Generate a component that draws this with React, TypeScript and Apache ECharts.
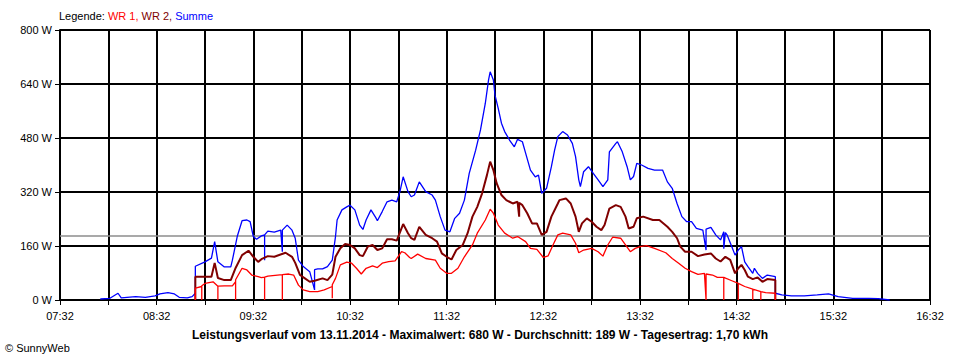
import React, { useEffect, useRef } from "react";
import * as echarts from "echarts";

// ---- Data ----
const yTicks = [0, 160, 320, 480, 640, 800];
const startClock = "07:32";
const endClock = "16:32";

const sumTimes = [
  "07:57","08:03","08:08","08:10","08:19","08:25","08:31","08:34","08:39","08:43","08:46","08:51","08:54","08:56","08:56",
  "09:02","09:06","09:08","09:10","09:14","09:18","09:19","09:22","09:25","09:28","09:30","09:32","09:34","09:37","09:39","09:39","09:39",
  "09:41","09:45","09:49","09:50","09:50","09:53","09:56","09:58","10:00","10:03","10:07","10:10","10:10","10:12","10:15","10:18","10:21",
  "10:23","10:24","10:27","10:30","10:32","10:35","10:38","10:40","10:42","10:45","10:48","10:49","10:52","10:55","10:58","11:01","11:03",
  "11:05","11:08","11:10","11:12","11:15","11:19","11:23","11:25","11:28","11:31","11:34","11:37","11:40","11:43","11:46","11:50","11:53",
  "11:56","11:58","11:59","12:01","12:02","12:04","12:06","12:08","12:11","12:14","12:16","12:19","12:21","12:24","12:27","12:29","12:31",
  "12:34","12:37","12:39","12:41","12:44","12:47","12:50","12:52","12:54","12:55","12:57","13:00","13:03","13:06","13:09","13:12","13:13",
  "13:17","13:18","13:21","13:24","13:26","13:28","13:30","13:33","13:37","13:41","13:46","13:49","13:52","13:55","13:58","14:01","14:04",
  "14:07","14:11","14:13","14:13","14:16","14:19","14:22","14:24","14:24","14:25","14:26","14:29","14:31","14:33","14:35","14:37","14:39",
  "14:42","14:43","14:45","14:48","14:51","14:56","14:56","15:00","15:06","15:14","15:22","15:29","15:35","15:44","15:54","16:00","16:07"
];
const sumValues = [
  3,5,20,6,10,8,12,18,22,18,8,6,10,20,100,
  113,124,173,113,98,98,118,188,235,237,232,188,180,190,193,118,193,
  204,201,207,143,207,222,207,183,118,99,84,30,90,92,92,99,118,
  188,237,267,276,281,267,222,209,237,267,244,235,262,291,296,291,321,
  365,321,306,311,350,321,311,296,247,207,202,242,257,296,375,444,504,
  583,652,676,652,607,568,524,499,474,454,476,469,435,385,365,370,316,
  331,395,444,484,499,489,464,425,356,336,380,395,375,356,336,356,439,
  464,469,439,395,356,366,405,400,390,385,385,350,331,286,247,232,232,
  212,207,148,210,215,193,178,202,152,200,193,158,133,148,158,113,99,
  79,94,79,64,74,69,20,15,12,12,15,18,10,5,5,4,0
];

const wr2Times = [
  "08:56","08:56","09:02","09:06","09:08","09:10","09:14","09:18","09:21","09:25","09:29","09:32","09:35","09:37","09:41","09:45","09:52",
  "09:56","09:58","10:01","10:04","10:07","10:10","10:15","10:18","10:21","10:23","10:26","10:29","10:32","10:35","10:38","10:40","10:43",
  "10:46","10:49","10:52","10:55","10:58","11:01","11:05","11:08","11:10","11:12","11:15","11:19","11:23","11:26","11:29","11:32","11:35",
  "11:38","11:42","11:45","11:48","11:51","11:54","11:57","11:59","12:01","12:03","12:06","12:09","12:13","12:16","12:17","12:17","12:19",
  "12:22","12:25","12:28","12:31","12:34","12:37","12:41","12:42","12:46","12:49","12:52","12:54","12:56","12:59","13:02","13:05","13:08",
  "13:10","13:13","13:17","13:20","13:23","13:25","13:28","13:30","13:34","13:40","13:44","13:49","13:52","13:55","13:57","14:00","14:04",
  "14:08","14:12","14:16","14:19","14:22","14:25","14:28","14:31","14:33","14:35","14:37","14:39","14:42","14:45","14:48","14:51","14:56","14:56"
];
const wr2Values = [
  0,69,69,69,110,65,59,59,95,133,146,128,113,121,130,128,140,
  128,110,74,64,54,57,64,59,75,128,153,166,163,153,133,130,158,
  163,148,153,180,180,176,225,198,183,178,217,193,183,173,138,128,120,
  148,163,198,247,276,316,370,410,385,346,311,296,286,291,247,288,281,
  257,227,227,193,202,247,286,296,301,286,247,202,227,242,232,217,207,
  222,271,281,276,247,212,217,242,247,237,237,217,202,183,158,143,143,
  130,135,138,123,114,128,119,79,94,104,89,69,62,67,54,62,59,0
];

const wr1Times = [
  "08:56","08:56","09:00","09:00","09:00","09:02","09:07","09:10","09:10","09:10","09:14","09:19","09:21","09:21","09:21","09:25","09:28",
  "09:31","09:35","09:37","09:39","09:39","09:39","09:41","09:47","09:50","09:50","09:50","09:54","09:57","10:00","10:03","10:07","10:12",
  "10:16","10:21","10:21","10:21","10:23","10:26","10:30","10:33","10:36","10:39","10:42","10:46","10:49","10:52","10:56","11:00","11:04",
  "11:06","11:09","11:10","11:14","11:19","11:25","11:28","11:32","11:35","11:39","11:43","11:48","11:51","11:56","11:59","12:01","12:04",
  "12:08","12:13","12:16","12:21","12:24","12:28","12:32","12:35","12:38","12:41","12:44","12:49","12:52","12:54","12:57","13:02","13:06",
  "13:09","13:12","13:15","13:20","13:23","13:26","13:29","13:32","13:36","13:41","13:48","13:52","13:56","14:00","14:04","14:08","14:12",
  "14:13","14:13","14:17","14:20","14:24","14:24","14:24","14:29","14:33","14:33","14:33","14:37","14:42","14:42","14:42","14:45","14:47",
  "14:47","14:47","14:50","14:56","14:56"
];
const wr1Values = [
  0,35,40,0,42,49,54,41,0,41,42,42,54,0,60,94,89,
  74,69,66,68,0,68,71,74,75,0,75,77,74,44,30,25,25,
  30,40,5,45,64,104,112,109,94,77,94,101,96,109,114,116,143,
  140,126,123,136,123,118,94,79,79,94,128,163,198,237,269,257,222,
  198,183,188,173,153,150,126,131,163,193,198,193,168,140,148,153,143,
  130,163,186,183,163,143,153,158,161,153,140,123,109,94,84,76,79,
  0,77,74,67,67,0,67,57,49,0,49,40,32,0,32,28,25,
  0,25,22,20,0
];

const averageValue = 189;
const captionText =
  "Leistungsverlauf vom 13.11.2014 - Maximalwert: 680 W - Durchschnitt: 189 W - Tagesertrag: 1,70 kWh";

// ---- Helpers ----
const clockToMin = (t: string) => {
  const [h, m] = t.split(":").map(Number);
  return h * 60 + m;
};
const originMin = clockToMin(startClock);
const spanMin = clockToMin(endClock) - originMin;
const pad = (n: number) => (n < 10 ? "0" + n : "" + n);
const offsetToClock = (v: number) => {
  const total = originMin + v;
  return pad(Math.floor(total / 60)) + ":" + pad(total % 60);
};
const toPairs = (times: string[], values: number[]) =>
  times.map((t, i) => [clockToMin(t) - originMin, values[i]]);

const FONT = "'Liberation Sans', Arial, sans-serif";

export default function App() {
  const ref = useRef<HTMLDivElement>(null);

  useEffect(() => {
    if (!ref.current) return;
    const chart = echarts.init(ref.current, undefined, { renderer: "svg" });
    chart.setOption({
      animation: false,
      backgroundColor: "#ffffff",
      textStyle: { fontFamily: FONT },
      title: [
        {
          text: "{k|Legende: }{a|WR 1, }{b|WR 2, }{c|Summe}",
          left: 59,
          top: 10,
          textStyle: {
            fontFamily: FONT,
            fontSize: 11,
            fontWeight: "normal",
            rich: {
              k: { color: "#000000", fontSize: 11, fontFamily: FONT },
              a: { color: "#ff0000", fontSize: 11, fontFamily: FONT },
              b: { color: "#800000", fontSize: 11, fontFamily: FONT },
              c: { color: "#0000ff", fontSize: 11, fontFamily: FONT },
            },
          },
          padding: 0,
        },
        {
          text: captionText,
          left: "center",
          top: 329,
          padding: 0,
          textStyle: { fontFamily: FONT, fontSize: 12, fontWeight: "bold", color: "#000" },
        },
        {
          text: "© SunnyWeb",
          left: 5,
          top: 342,
          padding: 0,
          textStyle: { fontFamily: FONT, fontSize: 11, fontWeight: "normal", color: "#000" },
        },
      ],
      grid: {
        left: 60,
        right: 30,
        top: 30,
        bottom: 60,
        containLabel: false,
        outerBoundsMode: "none",
      },
      xAxis: {
        type: "value",
        min: 0,
        max: spanMin,
        interval: 30,
        axisLine: { show: true, lineStyle: { color: "#000", width: 2 } },
        axisTick: { show: true, length: 5, lineStyle: { color: "#000", width: 1 } },
        splitLine: { show: true, lineStyle: { color: "#000", width: 2 } },
        axisLabel: {
          show: true,
          color: "#000",
          fontSize: 11,
          fontFamily: FONT,
          margin: 10,
          showMinLabel: true,
          showMaxLabel: true,
          formatter: (v: number) => (v % 60 === 0 ? offsetToClock(v) : ""),
        },
      },
      yAxis: {
        type: "value",
        min: yTicks[0],
        max: yTicks[yTicks.length - 1],
        interval: yTicks[1] - yTicks[0],
        axisLine: { show: true, lineStyle: { color: "#000", width: 2 } },
        axisTick: { show: true, length: 5, lineStyle: { color: "#000", width: 1 } },
        splitLine: { show: true, lineStyle: { color: "#000", width: 2 } },
        axisLabel: {
          color: "#000",
          fontSize: 11,
          fontFamily: FONT,
          margin: 8,
          formatter: "{value} W",
        },
      },
      series: [
        {
          name: "Summe",
          type: "line",
          data: toPairs(sumTimes, sumValues),
          showSymbol: false,
          symbol: "none",
          lineStyle: { color: "#0000ff", width: 1.3 },
          itemStyle: { color: "#0000ff" },
          z: 3,
          markLine: {
            silent: true,
            symbol: "none",
            label: { show: false },
            lineStyle: { color: "#8c8c8c", width: 1.5, type: "solid" },
            data: [{ yAxis: averageValue }],
            z: 2,
          },
        },
        {
          name: "WR 2",
          type: "line",
          data: toPairs(wr2Times, wr2Values),
          showSymbol: false,
          symbol: "none",
          lineStyle: { color: "#800000", width: 2 },
          itemStyle: { color: "#800000" },
          z: 4,
        },
        {
          name: "WR 1",
          type: "line",
          data: toPairs(wr1Times, wr1Values),
          showSymbol: false,
          symbol: "none",
          lineStyle: { color: "#ff0000", width: 1.3 },
          itemStyle: { color: "#ff0000" },
          z: 5,
        },
      ],
    });
    return () => chart.dispose();
  }, []);

  return (
    <div
      ref={ref}
      style={{ position: "fixed", left: 0, top: 0, width: 960, height: 360, background: "#fff" }}
    />
  );
}
